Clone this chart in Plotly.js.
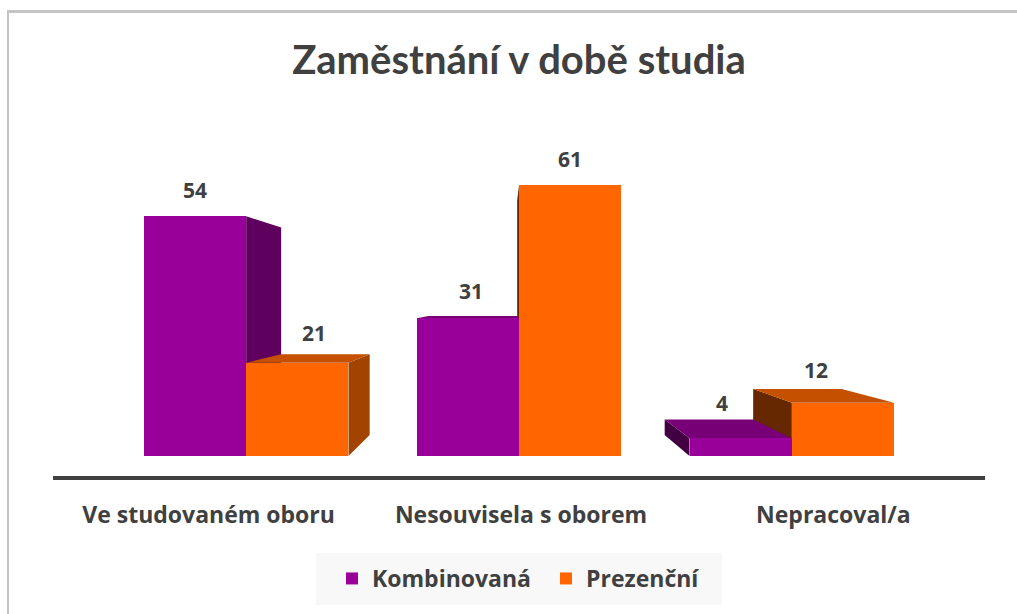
<!DOCTYPE html>
<html>
<head>
<meta charset="utf-8">
<script src="https://cdn.plot.ly/plotly-3.0.1.min.js"></script>
<style>
  html, body { margin: 0; padding: 0; background: #ffffff; overflow: hidden; }
  #wrap { position: relative; width: 1017px; height: 614px; overflow: hidden; background: #ffffff; }
  #chart { position: absolute; left: 0; top: 0; width: 1017px; height: 614px; }
  .edge { position: absolute; background: #c4c4c4; pointer-events: none; }
</style>
</head>
<body>
<div id="wrap">
  <div id="chart"></div>
  <div class="edge" style="left:7px; top:10px; width:1010px; height:3px;"></div>
  <div class="edge" style="left:7px; top:10px; width:2px; height:604px;"></div>
</div>
<script>
// ---- data ----
const categories = ['Ve studovaném oboru', 'Nesouvisela s oborem', 'Nepracoval/a'];
const seriesNames = ['Kombinovaná', 'Prezenční'];
const kombinovana = [54, 31, 4];
const prezencni = [21, 61, 12];
const chartTitle = 'Zaměstnání v době studia';

// ---- style / geometry constants ----
const BAR_W = 0.375;            // bar width in category units
const VPX = 0.95, VPY = 35.1;   // perspective vanishing point (data units)
const DEPTH = 0.135;            // depth factor towards vanishing point
const LABEL_SPREAD = 1.145;     // category labels sit on the front edge of the floor
const TXT = '#404040';
const FONT = 'Open Sans';

const catIdx = categories.map((_, i) => i);

const seriesDefs = [
  { name: seriesNames[0], vals: kombinovana, offset: -BAR_W,
    front: '#990099', top: '#770077', right: '#5f005f', left: '#420042' },
  { name: seriesNames[1], vals: prezencni, offset: 0,
    front: '#ff6600', top: '#c45000', right: '#a34300', left: '#652800' }
];

function back(x, y) { return [x + DEPTH * (VPX - x), y + DEPTH * (VPY - y)]; }

const sideTraces = [], topTraces = [], barTraces = [], annotations = [];

seriesDefs.forEach(s => {
  const rx = [], ry = [], lx = [], ly = [], tx = [], ty = [];
  s.vals.forEach((h, i) => {
    const x0 = catIdx[i] + s.offset, x1 = x0 + BAR_W;
    if (x1 < VPX) {
      const a = back(x1, h), b = back(x1, 0);
      rx.push(x1, x1, a[0], b[0], x1, null); ry.push(0, h, a[1], b[1], 0, null);
    }
    if (x0 > VPX) {
      const a = back(x0, h), b = back(x0, 0);
      lx.push(x0, x0, a[0], b[0], x0, null); ly.push(0, h, a[1], b[1], 0, null);
    }
    const topVisible = h < VPY;
    if (topVisible) {
      const a = back(x1, h), b = back(x0, h);
      tx.push(x0, x1, a[0], b[0], x0, null); ty.push(h, h, a[1], b[1], h, null);
    }
    // data label: above the visible top face (front edge when the top is hidden)
    const cx = (x0 + x1) / 2;
    const bc = back(cx, h);
    const fx = topVisible ? 0.6 : 0;
    const fy = topVisible ? 0.5 : 0;
    annotations.push({
      x: cx + fx * (bc[0] - cx), y: h + fy * (bc[1] - h), xref: 'x', yref: 'y',
      text: String(h), showarrow: false, yanchor: 'middle', yshift: 26,
      font: { family: FONT, size: 21, color: TXT, weight: 700 }
    });
  });
  const poly = (xs, ys, col) => ({
    type: 'scatter', x: xs, y: ys, xaxis: 'x', yaxis: 'y', mode: 'lines',
    fill: 'toself', fillcolor: col, line: { width: 0, color: col },
    hoverinfo: 'skip', showlegend: false
  });
  if (rx.length) sideTraces.push(poly(rx, ry, s.right));
  if (lx.length) sideTraces.push(poly(lx, ly, s.left));
  if (tx.length) topTraces.push(poly(tx, ty, s.top));
  barTraces.push({
    type: 'bar', name: s.name, x: catIdx, y: s.vals, xaxis: 'x2', yaxis: 'y2',
    width: BAR_W, offset: s.offset,
    marker: { color: s.front, line: { width: 0 } }, hoverinfo: 'y+name'
  });
});

const XR = [-0.708, 2.708];
const YR = [-4.505, 75.68];
const tickPos = catIdx.map(c => VPX + (c - VPX) * LABEL_SPREAD);

// plot area in px: x 53..985, y 120..476
const PX = v => (v - 53) / 932, PY = v => (476 - v) / 356;

const layout = {
  width: 1017, height: 614,
  margin: { l: 53, r: 32, t: 120, b: 138 },
  paper_bgcolor: 'rgba(0,0,0,0)', plot_bgcolor: 'rgba(0,0,0,0)',
  title: { text: chartTitle, x: 0.5, xanchor: 'center', xref: 'paper', y: 1 - 60 / 614, yanchor: 'middle',
           yref: 'container', font: { family: 'Lato', size: 40, color: TXT, weight: 700 } },
  showlegend: true,
  legend: { orientation: 'h', x: 0.5 + 27 / 932, xanchor: 'center', xref: 'paper',
            y: 1 - 557 / 614, yanchor: 'top', yref: 'container', entrywidth: 169,
            bgcolor: 'rgba(0,0,0,0)', font: { family: FONT, size: 23, color: TXT, weight: 700 },
            traceorder: 'normal' },
  shapes: [{ type: 'rect', xref: 'paper', yref: 'paper', layer: 'below',
             x0: PX(316), x1: PX(722), y0: PY(553), y1: PY(605),
             fillcolor: '#f8f8f8', line: { width: 0 } }],
  xaxis: { range: XR, tickvals: tickPos, ticktext: categories, showgrid: false, zeroline: false,
           showline: true, linecolor: '#404040', linewidth: 4, ticks: '', ticklabelstandoff: 15,
           tickfont: { family: FONT, size: 23, color: TXT, weight: 700 }, fixedrange: true },
  yaxis: { range: YR, visible: false, showgrid: false, zeroline: false, fixedrange: true },
  xaxis2: { range: XR, overlaying: 'x', visible: false, fixedrange: true },
  yaxis2: { range: YR, overlaying: 'y', visible: false, fixedrange: true },
  barmode: 'group', bargap: 0, bargroupgap: 0,
  annotations: annotations
};

Plotly.newPlot('chart', [...sideTraces, ...topTraces, ...barTraces], layout,
               { displayModeBar: false, staticPlot: true });
</script>
</body>
</html>
